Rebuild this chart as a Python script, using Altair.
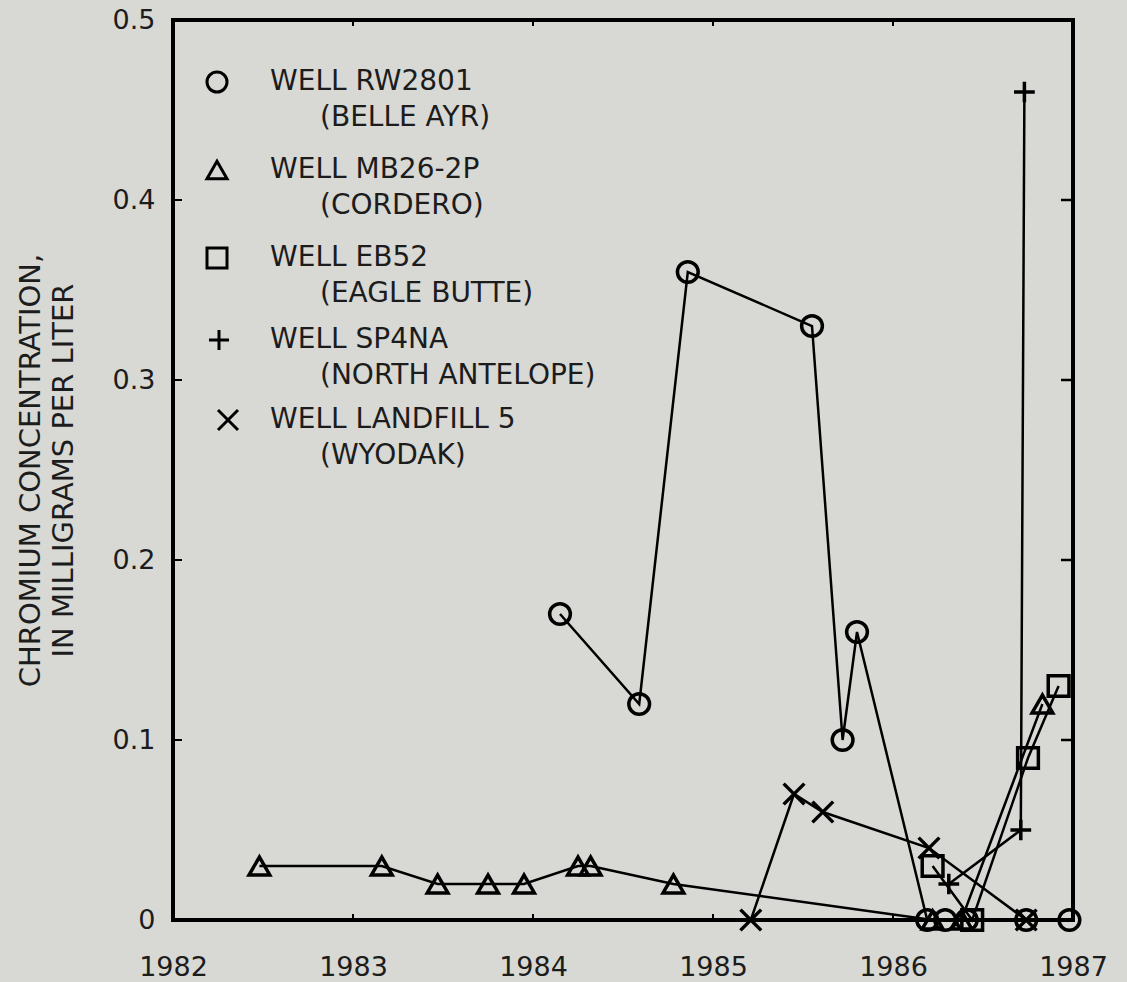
import altair as alt
import pandas as pd

# ---- data ----
wells = ["WELL RW2801", "WELL MB26-2P", "WELL EB52", "WELL SP4NA", "WELL LANDFILL 5"]
sites = ["(BELLE AYR)", "(CORDERO)", "(EAGLE BUTTE)", "(NORTH ANTELOPE)", "(WYODAK)"]

rw_year = [1984.15, 1984.59, 1984.86, 1985.55, 1985.72, 1985.80, 1986.19, 1986.29, 1986.41, 1986.74, 1986.98]
rw_val = [0.17, 0.12, 0.36, 0.33, 0.10, 0.16, 0.0, 0.0, 0.0, 0.0, 0.0]

mb_year = [1982.48, 1983.16, 1983.47, 1983.75, 1983.95, 1984.25, 1984.32, 1984.78, 1986.22, 1986.38, 1986.83]
mb_val = [0.03, 0.03, 0.02, 0.02, 0.02, 0.03, 0.03, 0.02, 0.0, 0.0, 0.12]

eb_year = [1986.22, 1986.44, 1986.75, 1986.92]
eb_val = [0.03, 0.0, 0.09, 0.13]

sp_year = [1986.31, 1986.71, 1986.73]
sp_val = [0.02, 0.05, 0.46]

lf_year = [1985.21, 1985.45, 1985.61, 1986.20, 1986.74]
lf_val = [0.0, 0.07, 0.06, 0.04, 0.0]

x_ticks = [1982, 1983, 1984, 1985, 1986, 1987]
y_ticks = [0.0, 0.1, 0.2, 0.3, 0.4, 0.5]
y_title = ["CHROMIUM CONCENTRATION,", "IN MILLIGRAMS PER LITER"]

# ---- build table ----
series = [(rw_year, rw_val), (mb_year, mb_val), (eb_year, eb_val), (sp_year, sp_val), (lf_year, lf_val)]
rows = []
for name, (ys, vs) in zip(wells, series):
    for yr, v in zip(ys, vs):
        rows.append({"well": name, "year": yr, "value": v})
df = pd.DataFrame(rows)

PLUS = "M-1,0H1M0,-1V1"
CROSS = "M-1,-1L1,1M-1,1L1,-1"
shapes = ["circle", "triangle-up", "square", PLUS, CROSS]

FONT = "DejaVu Sans"
INK = "#1c1c1c"
W, H = 900, 900

xscale = alt.Scale(domain=[1982, 1987], nice=False, zero=False)
yscale = alt.Scale(domain=[0, 0.5], nice=False, zero=False)

x_enc = alt.X("year:Q", scale=xscale,
              axis=alt.Axis(values=x_ticks, format="d", title=None, grid=False, ticks=False,
                            domain=False, labelFontSize=27, labelFont=FONT, labelColor=INK,
                            labelPadding=34, labelFlush=False))
y_enc = alt.Y("value:Q", scale=yscale,
              axis=alt.Axis(values=y_ticks, grid=False, ticks=False, domain=False,
                            labelExpr="datum.value == 0 ? '0' : format(datum.value, '.1f')",
                            labelFontSize=27, labelFont=FONT, labelColor=INK, labelPadding=18,
                            title=y_title, titleFont=FONT, titleFontSize=29, titleFontWeight="normal",
                            titleColor=INK, titleAngle=270, titleX=-143, titleY=450,
                            titleAlign="center", titleBaseline="middle", titleLineHeight=33))

lines = alt.Chart(df).mark_line(color="black", strokeWidth=2.5).encode(
    x=x_enc, y=y_enc, detail="well:N"
)
points = alt.Chart(df).mark_point(filled=False, color="black", strokeWidth=3.5, size=430, opacity=1).encode(
    x=alt.X("year:Q", scale=xscale),
    y=alt.Y("value:Q", scale=yscale),
    shape=alt.Shape("well:N", scale=alt.Scale(domain=wells, range=shapes), legend=None),
)

# inward tick marks on the frame
ytk = pd.DataFrame({"value": [0.1, 0.2, 0.3, 0.4]})
xtk = pd.DataFrame({"year": [1983, 1984, 1985, 1986]})
yax = alt.Y("value:Q", scale=yscale)
xax = alt.X("year:Q", scale=xscale)
right_ticks = alt.Chart(ytk).mark_rule(color="black", strokeWidth=2.5).encode(
    y=yax, x=alt.value(W - 12), x2=alt.value(W))
left_ticks = alt.Chart(ytk).mark_rule(color="black", strokeWidth=2).encode(
    y=yax, x=alt.value(0), x2=alt.value(9))
bottom_ticks = alt.Chart(xtk).mark_rule(color="black", strokeWidth=2).encode(
    x=xax, y=alt.value(H - 6), y2=alt.value(H))
top_ticks = alt.Chart(xtk).mark_rule(color="black", strokeWidth=2).encode(
    x=xax, y=alt.value(0), y2=alt.value(6))

# in-plot legend
one = pd.DataFrame({"a": [0]})
sym_x = [44, 44, 44, 46, 55]
row_y = [62, 150, 238, 320, 400]
legend_layers = []
for i in range(5):
    legend_layers.append(
        alt.Chart(one).mark_point(filled=False, color="black", strokeWidth=3, size=400, opacity=1,
                                  shape=shapes[i]).encode(x=alt.value(sym_x[i]), y=alt.value(row_y[i]))
    )
    legend_layers.append(
        alt.Chart(one).mark_text(text=wells[i], font=FONT, fontSize=28, color=INK, align="left",
                                 baseline="middle").encode(x=alt.value(97), y=alt.value(row_y[i]))
    )
    legend_layers.append(
        alt.Chart(one).mark_text(text=sites[i], font=FONT, fontSize=28, color=INK, align="left",
                                 baseline="middle").encode(x=alt.value(147), y=alt.value(row_y[i] + 36))
    )

chart = alt.layer(
    lines, points, right_ticks, left_ticks, bottom_ticks, top_ticks, *legend_layers
).properties(
    width=W, height=H,
    autosize=alt.AutoSizeParams(type="none"),
    padding={"left": 173, "top": 20, "right": 54, "bottom": 62},
    background="#d8d9d4",
).configure_view(
    stroke="black", strokeWidth=4
)

chart.save("out.html", embed_options={"renderer": "svg", "actions": False})
